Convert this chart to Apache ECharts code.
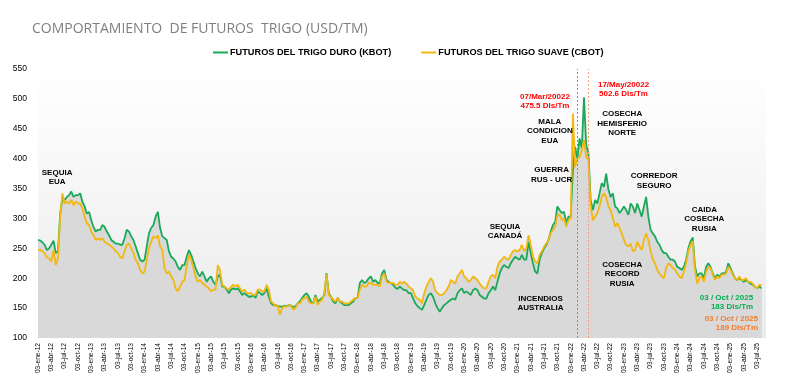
<!DOCTYPE html>
<html>
<head>
<meta charset="utf-8">
<script src="https://cdn.jsdelivr.net/npm/echarts/dist/echarts.min.js"></script>
<style>
html,body{margin:0;padding:0;background:#fff;}
#chart{width:800px;height:380px;}
</style>
</head>
<body>
<div id="chart"></div>
<script>
// Quarterly tick labels (x axis in months since 03-ene-12, one tick every 3 months)
const tickLabels = [
  '03-ene-12','03-abr-12','03-jul-12','03-oct-12',
  '03-ene-13','03-abr-13','03-jul-13','03-oct-13',
  '03-ene-14','03-abr-14','03-jul-14','03-oct-14',
  '03-ene-15','03-abr-15','03-jul-15','03-oct-15',
  '03-ene-16','03-abr-16','03-jul-16','03-oct-16',
  '03-ene-17','03-abr-17','03-jul-17','03-oct-17',
  '03-ene-18','03-abr-18','03-jul-18','03-oct-18',
  '03-ene-19','03-abr-19','03-jul-19','03-oct-19',
  '03-ene-20','03-abr-20','03-jul-20','03-oct-20',
  '03-ene-21','03-abr-21','03-jul-21','03-oct-21',
  '03-ene-22','03-abr-22','03-jul-22','03-oct-22',
  '03-ene-23','03-abr-23','03-jul-23','03-oct-23',
  '03-ene-24','03-abr-24','03-jul-24','03-oct-24',
  '03-ene-25','03-abr-25','03-jul-25'
];

// Sampling step of the series (in months)
const STEP = 0.5;

// KBOT (trigo duro) USD/TM, half-month samples
const kbot = [
264,263,260,256,247,250,256,263,242,245,
308,334,331,336,339,345,336,339,339,342,
328,320,308,311,297,286,278,281,281,289,
286,278,272,264,261,258,258,256,256,267,
281,278,270,264,253,242,231,228,231,253,
275,284,289,303,311,284,270,267,264,245,
236,233,228,219,214,222,222,236,247,239,
228,217,208,203,211,203,194,200,203,194,
189,203,206,186,186,181,175,181,183,181,
183,178,172,175,172,169,169,172,167,178,
175,172,175,183,169,158,155,155,153,153,
152,154,153,155,154,152,153,158,161,167,
172,175,169,161,158,172,161,164,167,172,
208,175,169,161,158,167,161,158,155,155,
155,158,161,167,167,192,197,192,194,200,
203,194,197,192,192,208,214,197,194,192,
189,184,182,186,183,180,180,175,175,166,
158,153,150,147,155,164,172,175,169,158,
150,144,150,155,158,161,164,166,164,175,
180,183,175,178,175,172,180,183,180,172,
169,166,166,175,180,186,180,194,208,217,
222,219,217,225,231,236,233,231,239,231,
231,261,242,225,211,208,231,242,250,256,
264,278,289,294,320,314,309,311,292,303,
303,380,420,400,434,417,502.6,423,409,331,
314,331,325,342,359,353,375,348,336,342,
320,317,309,314,320,314,306,325,320,309,
325,314,303,320,336,303,281,275,270,261,
256,247,242,242,236,231,231,228,219,217,
214,219,231,250,262,268,220,203,208,208,
200,219,225,219,208,200,206,203,208,208,
211,225,217,208,200,197,200,197,194,197,
194,191,189,186,183,186,183
];

// CBOT (trigo suave) USD/TM, half-month samples
const cbot = [
247,248,245,242,235,233,228,247,222,233,
303,342,325,328,325,331,322,328,325,325,
317,303,292,289,278,272,264,267,264,267,
261,258,256,253,250,245,242,236,233,245,
256,258,250,242,231,225,214,208,211,231,
250,261,270,267,272,253,247,217,208,211,
203,197,183,178,186,194,197,219,239,231,
217,203,194,197,192,189,186,183,178,181,
181,222,214,189,186,183,181,186,189,186,
189,183,178,181,175,175,175,172,172,181,
181,178,178,189,181,161,158,153,155,139,
150,153,152,155,154,147,150,158,158,164,
167,169,161,158,158,169,155,161,164,175,
206,172,169,164,161,167,161,161,158,158,
158,161,164,167,167,181,189,186,186,192,
192,189,189,189,186,203,208,194,192,192,
192,189,189,194,191,194,191,186,183,180,
169,166,164,158,175,186,194,200,194,180,
175,172,172,175,180,186,197,194,191,203,
208,214,203,200,194,197,203,200,197,191,
186,183,183,194,203,206,200,219,228,231,
236,233,231,239,245,247,245,247,256,245,
250,272,256,236,228,225,239,245,253,258,
264,275,281,286,306,306,297,300,286,297,
300,475.5,386,400,403,414,431,403,398,320,
297,303,309,320,336,342,336,320,314,300,
286,292,284,275,264,256,253,258,245,247,
261,253,247,264,275,264,245,231,225,214,
208,203,200,217,225,222,217,214,208,203,
200,211,225,245,256,262,214,191,200,203,
194,211,219,217,206,197,203,200,206,206,
208,219,214,206,200,197,203,197,197,200,
194,194,191,186,183,189,189
];

// Reference dates marked with dotted lines (axis position in months)
const markerGreen = 121.5;   // 07/Mar/2022
const markerOrange = 123.9;  // 17/May/2022

// Annotations: [month position, value, text, colour, align]
const annotations = [
  [4.3, 369, 'SEQUIA\nEUA', '#000', 'center'],
  [115.3, 446, 'MALA\nCONDICION\nEUA', '#000', 'center'],
  [115.7, 373, 'GUERRA\nRUS - UCR', '#000', 'center'],
  [114.2, 496, '07/Mar/20022\n475.5 Dls/Tm', '#ff0000', 'center'],
  [131.9, 516, '17/May/20022\n502.6 Dls/Tm', '#ff0000', 'center'],
  [131.6, 459, 'COSECHA\nHEMISFERIO\nNORTE', '#000', 'center'],
  [138.8, 363, 'CORREDOR\nSEGURO', '#000', 'center'],
  [150.1, 299, 'CAIDA\nCOSECHA\nRUSIA', '#000', 'center'],
  [131.6, 207, 'COSECHA\nRECORD\nRUSIA', '#000', 'center'],
  [105.2, 278, 'SEQUIA\nCANADÁ', '#000', 'center'],
  [113.2, 158, 'INCENDIOS\nAUSTRALIA', '#000', 'center'],
  [161.1, 160, '03 / Oct / 2025\n183 Dls/Tm', '#00b050', 'right'],
  [162.2, 125, '03 / Oct / 2025\n189 Dls/Tm', '#ed7d31', 'right']
];

const NAME_K = 'FUTUROS DEL TRIGO DURO (KBOT)';
const NAME_C = 'FUTUROS DEL TRIGO SUAVE (CBOT)';
const toPts = arr => arr.map((v, i) => [i * STEP, v]);

const chart = echarts.init(document.getElementById('chart'), null, {renderer: 'canvas'});
chart.setOption({
  animation: false,
  backgroundColor: '#ffffff',
  title: {
    text: 'COMPORTAMIENTO  DE FUTUROS  TRIGO (USD/TM)',
    left: 27, top: 17,
    textStyle: {fontFamily: 'Open Sans', fontSize: 14, fontWeight: 'normal', color: '#7f7f7f'}
  },
  legend: {
    data: [NAME_K, NAME_C],
    left: 208, top: 43,
    itemWidth: 15, itemHeight: 2, itemGap: 30,
    icon: 'rect',
    textStyle: {fontFamily: 'Liberation Sans, Arial', fontSize: 9.2, fontWeight: 'bold', color: '#000', padding: [0, 0, 0, -3]}
  },
  grid: {
    left: 38, right: 34, top: 69, bottom: 42,
    show: true, borderWidth: 0,
    backgroundColor: new echarts.graphic.LinearGradient(0, 0, 0, 1, [
      {offset: 0, color: '#ffffff'}, {offset: 1, color: '#ebebeb'}
    ])
  },
  xAxis: {
    type: 'value', min: 0, max: 164, interval: 3,
    axisLine: {show: false}, axisTick: {show: false}, splitLine: {show: false},
    axisLabel: {
      rotate: 90, fontSize: 6.6, color: '#000', margin: 5,
      fontFamily: 'Liberation Sans, Arial',
      showMaxLabel: false,
      formatter: v => (v % 3 === 0 && tickLabels[v / 3]) ? tickLabels[v / 3] : ''
    }
  },
  yAxis: {
    type: 'value', min: 100, max: 550, interval: 50,
    axisLine: {show: false}, axisTick: {show: false}, splitLine: {show: false},
    axisLabel: {fontSize: 8.5, color: '#000', margin: 11, fontFamily: 'Liberation Sans, Arial'}
  },
  series: [
    {
      name: 'areaK', type: 'line', data: toPts(kbot), showSymbol: false, silent: true, z: 1,
      lineStyle: {width: 0}, areaStyle: {color: '#d9d9d9', opacity: 1, origin: 'start'}
    },
    {
      name: 'areaC', type: 'line', data: toPts(cbot), showSymbol: false, silent: true, z: 1,
      lineStyle: {width: 0}, areaStyle: {color: '#d9d9d9', opacity: 1, origin: 'start'}
    },
    {
      name: NAME_K, type: 'line', data: toPts(kbot), showSymbol: false, z: 3,
      color: '#1aa957', lineStyle: {width: 1.8, color: '#1aa957'},
      markLine: {
        silent: true, symbol: 'none', label: {show: false},
        lineStyle: {color: '#2fc46c', width: 1, type: [2, 2], opacity: 1},
        data: [{xAxis: markerGreen}]
      }
    },
    {
      name: NAME_C, type: 'line', data: toPts(cbot), showSymbol: false, z: 4,
      color: '#f2b711', lineStyle: {width: 1.8, color: '#f2b711'},
      markLine: {
        silent: true, symbol: 'none', label: {show: false},
        lineStyle: {color: '#f4a070', width: 1, type: [2, 2], opacity: 1},
        data: [{xAxis: markerOrange}]
      },
      markPoint: {
        silent: true, symbol: 'circle', symbolSize: 1,
        itemStyle: {color: 'rgba(0,0,0,0)'},
        data: annotations.map(a => ({
          coord: [a[0], a[1]],
          label: {
            show: true, position: 'inside', formatter: a[2],
            color: a[3], align: a[4], fontSize: 8, fontWeight: 'bold',
            lineHeight: 9.3, fontFamily: 'Liberation Sans, Arial'
          }
        }))
      }
    }
  ]
});
</script>
</body>
</html>
